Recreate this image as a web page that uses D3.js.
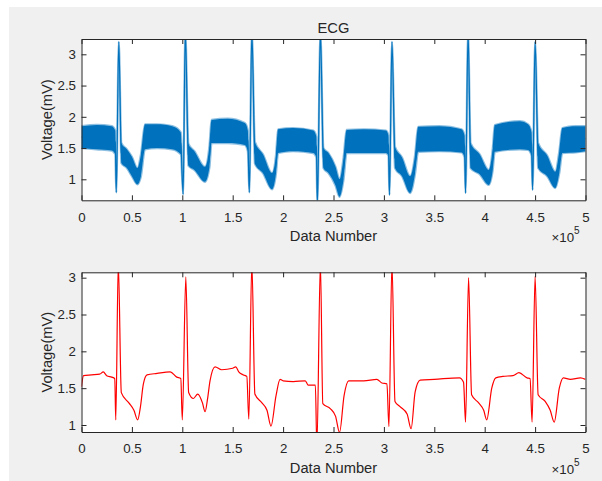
<!DOCTYPE html>
<html>
<head>
<meta charset="utf-8">
<script src="https://cdn.jsdelivr.net/npm/d3@7"></script>
<style>
  body { margin: 0; background: #fff; }
  svg { display: block; }
  text { font-family: "Liberation Sans", Arial, sans-serif; fill: #262626; }
</style>
</head>
<body>
<div id="chart"></div>
<script>
// raw ECG (top): sample number in units of 1e5, noise band low / high edges (mV)
const rawX = [0, 0.15, 0.30, 0.335, 0.345, 0.37, 0.395, 0.45, 0.50, 0.555, 0.59, 0.63, 0.75, 0.90, 0.985,
  1.008, 1.03, 1.06, 1.12, 1.225, 1.27, 1.29, 1.45, 1.62, 1.65,
  1.665, 1.69, 1.72, 1.80, 1.89, 1.93, 1.95, 2.10, 2.30, 2.33,
  2.34, 2.37, 2.40, 2.45, 2.52, 2.56, 2.60, 2.63, 2.80, 3.02, 3.045,
  3.055, 3.08, 3.11, 3.18, 3.26, 3.31, 3.34, 3.55, 3.77, 3.80,
  3.81, 3.835, 3.86, 3.95, 4.04, 4.08, 4.10, 4.35, 4.43, 4.465,
  4.475, 4.50, 4.53, 4.62, 4.70, 4.74, 4.77, 4.90, 5.0];
const rawLo = [1.50, 1.48, 1.46, 1.40, 0.79, 3.20, 1.26, 1.18, 1.05, 0.92, 1.05, 1.48, 1.50, 1.48, 1.40,
  0.76, 3.35, 1.22, 1.15, 0.96, 1.20, 1.58, 1.58, 1.55, 1.45,
  0.79, 3.35, 1.25, 1.10, 0.84, 1.10, 1.42, 1.45, 1.42, 1.35,
  0.60, 3.35, 1.18, 1.10, 0.90, 0.72, 1.00, 1.42, 1.42, 1.42, 1.38,
  0.75, 3.20, 1.18, 1.05, 0.78, 1.10, 1.44, 1.45, 1.43, 1.35,
  0.78, 3.35, 1.18, 1.08, 0.91, 1.15, 1.44, 1.48, 1.47, 1.38,
  0.83, 3.20, 1.18, 1.05, 0.86, 1.10, 1.42, 1.43, 1.45];
const rawHi = [1.85, 1.87, 1.85, 1.78, 0.79, 3.20, 1.58, 1.48, 1.36, 1.18, 1.40, 1.88, 1.88, 1.85, 1.75,
  0.76, 3.35, 1.57, 1.45, 1.20, 1.55, 1.95, 1.97, 1.90, 1.78,
  0.79, 3.35, 1.60, 1.40, 1.10, 1.40, 1.80, 1.82, 1.78, 1.68,
  0.60, 3.35, 1.50, 1.42, 1.20, 1.00, 1.35, 1.79, 1.80, 1.78, 1.70,
  0.75, 3.20, 1.52, 1.35, 1.05, 1.40, 1.84, 1.85, 1.80, 1.70,
  0.78, 3.35, 1.58, 1.40, 1.15, 1.50, 1.87, 1.93, 1.88, 1.75,
  0.83, 3.20, 1.58, 1.38, 1.12, 1.45, 1.82, 1.85, 1.85];

// filtered ECG (bottom)
const filtX = [0, 0.02, 0.10, 0.18, 0.216, 0.25, 0.30, 0.33, 0.34, 0.365, 0.395, 0.47, 0.52, 0.557, 0.585, 0.613, 0.65, 0.75, 0.88, 0.945, 0.985,
  1.00, 1.035, 1.063, 1.11, 1.153, 1.20, 1.226, 1.25, 1.275, 1.325, 1.39, 1.50, 1.53, 1.56, 1.606, 1.64,
  1.66, 1.69, 1.72, 1.79, 1.84, 1.88, 1.93, 1.97, 2.0, 2.10, 2.22, 2.25, 2.32,
  2.335, 2.37, 2.394, 2.47, 2.52, 2.56, 2.605, 2.65, 2.80, 2.93, 2.98, 3.03,
  3.05, 3.08, 3.11, 3.16, 3.23, 3.27, 3.31, 3.36, 3.50, 3.75, 3.79,
  3.81, 3.84, 3.87, 3.94, 3.99, 4.02, 4.07, 4.11, 4.18, 4.28, 4.34, 4.42, 4.45,
  4.47, 4.50, 4.53, 4.60, 4.65, 4.69, 4.74, 4.78, 4.85, 4.95, 5.0];
const filtY = [1.52, 1.67, 1.68, 1.69, 1.72, 1.67, 1.65, 1.63, 1.07, 3.20, 1.44, 1.30, 1.20, 1.07, 1.25, 1.55, 1.68, 1.70, 1.72, 1.65, 1.63,
  1.07, 3.01, 1.44, 1.36, 1.42, 1.30, 1.18, 1.35, 1.60, 1.79, 1.75, 1.77, 1.79, 1.72, 1.68, 1.66,
  1.08, 3.20, 1.42, 1.30, 1.20, 0.985, 1.40, 1.62, 1.60, 1.59, 1.60, 1.54, 1.54,
  0.70, 3.20, 1.29, 1.22, 1.12, 0.90, 1.40, 1.60, 1.60, 1.62, 1.57, 1.56,
  0.98, 3.20, 1.32, 1.25, 1.15, 0.95, 1.45, 1.61, 1.62, 1.64, 1.58,
  1.04, 3.00, 1.41, 1.30, 1.20, 1.07, 1.50, 1.64, 1.66, 1.67, 1.71, 1.64, 1.63,
  1.04, 3.02, 1.41, 1.32, 1.20, 1.04, 1.50, 1.64, 1.62, 1.64, 1.62];

const xTicks = [0, 0.5, 1, 1.5, 2, 2.5, 3, 3.5, 4, 4.5, 5];
const yTicks = [1, 1.5, 2, 2.5, 3];

const W = 602, H = 481;
const svg = d3.select("#chart").append("svg").attr("width", W).attr("height", H);

// grey figure background
svg.append("rect").attr("x", 9).attr("y", 7).attr("width", W - 9).attr("height", H - 7).attr("fill", "#f0f0f0");

const left = 81.5, right = 585.5;
const x = d3.scaleLinear().domain([0, 5]).range([left, right]);

function panel(id, top, bottom, yDom) {
  const y = d3.scaleLinear().domain(yDom).range([bottom, top]);
  const g = svg.append("g");
  g.append("rect").attr("x", left).attr("y", top).attr("width", right - left).attr("height", bottom - top).attr("fill", "#fff");
  g.append("clipPath").attr("id", id).append("rect")
    .attr("x", left).attr("y", top).attr("width", right - left).attr("height", bottom - top);
  const plot = g.append("g").attr("clip-path", `url(#${id})`);

  const ax = (a, tx, ty, labels) => {
    const s = g.append("g").attr("transform", `translate(${tx},${ty})`)
      .call(a.tickSizeInner(-5).tickSizeOuter(0).tickFormat(labels ? d => d : ""));
    s.select(".domain").attr("stroke", "#262626");
    s.selectAll(".tick line").attr("stroke", "#262626");
    s.selectAll("text").style("font-size", "13.3px").attr("fill", "#262626");
    return s;
  };
  ax(d3.axisBottom(x).tickValues(xTicks).tickPadding(12), 0, bottom, true);
  ax(d3.axisTop(x).tickValues(xTicks), 0, top, false);
  ax(d3.axisLeft(y).tickValues(yTicks).tickPadding(5.5), left, 0, true);
  ax(d3.axisRight(y).tickValues(yTicks), right, 0, false);

  g.append("text").attr("x", (left + right) / 2).attr("y", bottom + 40.5)
    .attr("text-anchor", "middle").style("font-size", "14.7px").text("Data Number");
  g.append("text").attr("transform", `translate(52,${(top + bottom) / 2}) rotate(-90)`)
    .attr("text-anchor", "middle").style("font-size", "14.7px").text("Voltage(mV)");
  const m = g.append("text").attr("x", right - 34).attr("y", bottom + 41.5).style("font-size", "13.3px");
  m.append("tspan").text("\u00d710");
  m.append("tspan").attr("dy", -8).style("font-size", "10px").text("5");
  return { y, plot };
}

// top: raw signal, drawn as its noise band plus the centre trace for the spikes
const p1 = panel("clipTop", 39, 200.3, [0.664, 3.245]);
const raw = rawX.map((d, i) => ({ x: d, lo: rawLo[i], hi: rawHi[i] }));
const band = d3.area().curve(d3.curveMonotoneX)
  .x(d => x(d.x)).y0(d => p1.y(d.lo)).y1(d => p1.y(d.hi));
p1.plot.append("path").datum(raw)
  .attr("fill", "#0072BD").attr("stroke", "#0072BD").attr("stroke-opacity", 0.45).attr("stroke-width", 2.2)
  .attr("d", band);
p1.plot.append("path").datum(raw)
  .attr("fill", "none").attr("stroke", "#0072BD").attr("stroke-width", 1.2)
  .attr("d", d3.line().curve(d3.curveMonotoneX).x(d => x(d.x)).y(d => p1.y((d.lo + d.hi) / 2)));

svg.append("text").attr("x", (left + right) / 2).attr("y", 32.7)
  .attr("text-anchor", "middle").style("font-size", "14.7px").text("ECG");

// bottom: filtered signal
const p2 = panel("clipBot", 272.3, 432, [0.905, 3.073]);
const filt = filtX.map((d, i) => ({ x: d, v: filtY[i] }));
p2.plot.append("path").datum(filt)
  .attr("fill", "none").attr("stroke", "#ff0000").attr("stroke-width", 1.2)
  .attr("d", d3.line().curve(d3.curveMonotoneX).x(d => x(d.x)).y(d => p2.y(d.v)));
</script>
</body>
</html>
